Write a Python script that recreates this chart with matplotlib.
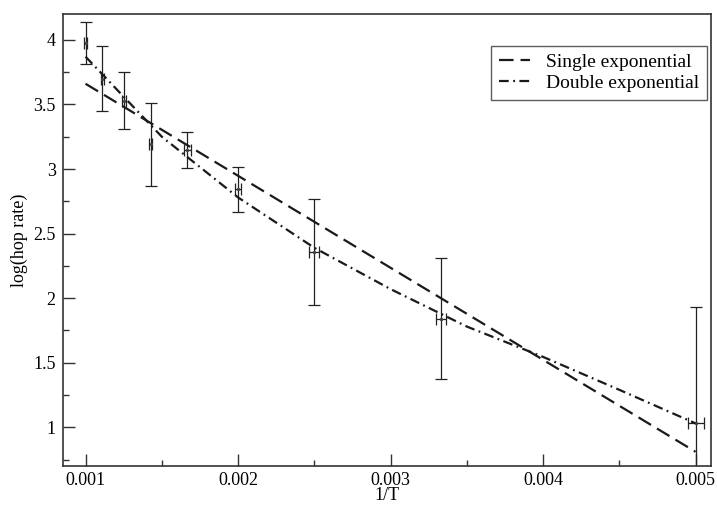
import matplotlib
matplotlib.use("Agg")
import matplotlib.pyplot as plt
from matplotlib.ticker import MultipleLocator

plt.rcParams['font.family'] = ['Liberation Serif', 'DejaVu Serif']
plt.rcParams['lines.scale_dashes'] = False

# data points (1/T, log(hop rate)) with error bars
inv_T = [0.001, 0.00111, 0.00125, 0.001429, 0.001667, 0.002, 0.0025, 0.00333, 0.005]
log_rate = [3.975, 3.70, 3.53, 3.19, 3.15, 2.843, 2.36, 1.84, 1.03]
y_err = [0.165, 0.25, 0.22, 0.32, 0.14, 0.173, 0.41, 0.47, 0.90]
x_err = [1.0e-5, 1.0e-5, 1.3e-5, 1.0e-5, 2.4e-5, 2.2e-5, 3.3e-5, 3.3e-5, 5.2e-5]

# single exponential fit (straight line in log vs 1/T)
single_x = [0.001, 0.005]
single_y = [3.66, 0.81]

# double exponential fit
double_x = [0.001, 0.0015, 0.002, 0.0025, 0.003, 0.0035, 0.004, 0.0045, 0.005]
double_y = [3.87, 3.25, 2.78, 2.39, 2.07, 1.78, 1.545, 1.29, 1.03]

fig = plt.figure(figsize=(7.17, 5.05), dpi=100)
ax = fig.add_axes([0.0874, 0.0772, 0.904, 0.895])

ax.errorbar(inv_T, log_rate, yerr=y_err, xerr=x_err, fmt='none', ecolor='#222222',
            elinewidth=0.9, capsize=4.3, capthick=0.9, zorder=2)
ax.plot(inv_T, log_rate, linestyle='none', marker='s', markersize=1.2, color='#444444', zorder=3)

ax.plot(single_x, single_y, color='#1a1a1a', lw=1.6, dashes=(10.5, 5.0),
        label='Single exponential', zorder=4)
ax.plot(double_x, double_y, color='#1a1a1a', lw=1.6, dashes=(7.0, 3.2, 1.3, 3.2),
        label='Double exponential', zorder=4)

ax.set_xlim(0.00085, 0.0051)
ax.set_ylim(0.7, 4.2)
ax.xaxis.set_minor_locator(MultipleLocator(0.0005))
ax.yaxis.set_minor_locator(MultipleLocator(0.25))
ax.set_xticks([0.001, 0.002, 0.003, 0.004, 0.005])
ax.set_xticklabels(['0.001', '0.002', '0.003', '0.004', '0.005'])
ax.set_yticks([1, 1.5, 2, 2.5, 3, 3.5, 4])
ax.set_yticklabels(['1', '1.5', '2', '2.5', '3', '3.5', '4'])

ax.tick_params(which='both', direction='in', top=False, right=False, labelsize=13,
               color='#333333', width=1.0)
ax.tick_params(which='major', length=8.6, pad=5)
ax.tick_params(axis='x', which='major', pad=4)
ax.tick_params(which='minor', length=4.5)
for s in ax.spines.values():
    s.set_linewidth(1.2)
    s.set_color('#333333')

ax.set_xlabel('1/T', fontsize=13, labelpad=-1)
ax.set_ylabel('log(hop rate)', fontsize=13, labelpad=4)

leg = ax.legend(loc='upper right', fontsize=14, frameon=True, fancybox=False,
                edgecolor='#333333', handlelength=1.6, handletextpad=0.8,
                borderpad=0.4, labelspacing=0.15, borderaxespad=0,
                bbox_to_anchor=(0.9938, 0.9295))
leg.get_frame().set_linewidth(1.0)

fig.savefig('out.png', dpi=100)
